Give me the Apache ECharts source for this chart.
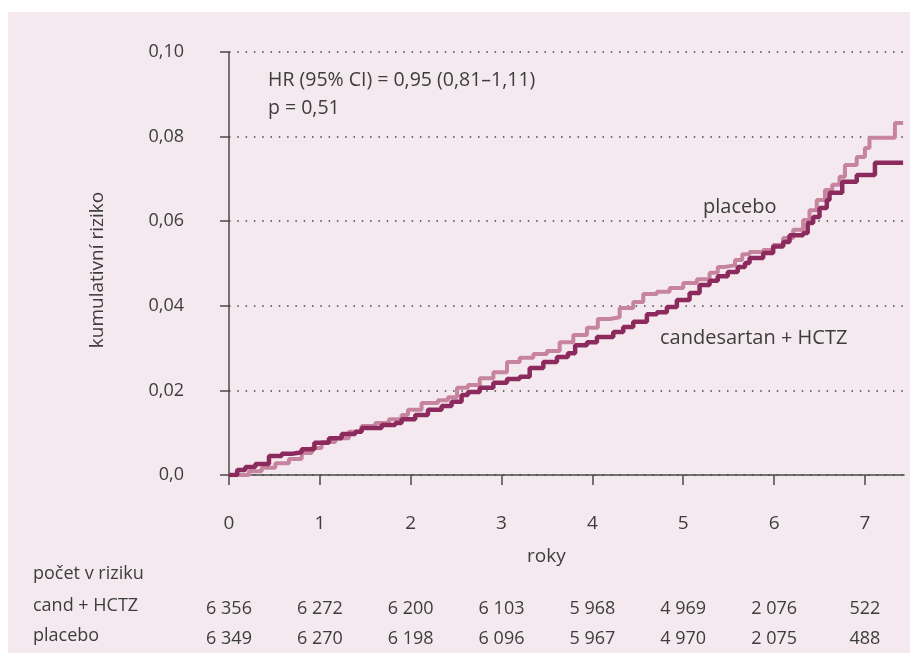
<!DOCTYPE html>
<html>
<head>
<meta charset="utf-8">
<script src="https://cdn.jsdelivr.net/npm/echarts@6/dist/echarts.min.js"></script>
<style>
  html, body { margin: 0; padding: 0; background: #fff; }
  #bg { position: absolute; left: 8px; top: 12px; width: 902px; height: 641px; background: #f4e9ee; }
  #main { position: absolute; left: 0; top: 0; width: 910px; height: 653px; }
</style>
</head>
<body>
<div id="bg"></div>
<div id="main"></div>
<script>
// roky (x) a kumulativní riziko (y)
var years = [0, 1, 2, 3, 4, 5, 6, 7];
var yTicks = [0, 0.02, 0.04, 0.06, 0.08, 0.10];

var candesartan = [
  [0, 0], [0.09, 0.0012], [0.18, 0.0019], [0.29, 0.0026], [0.44, 0.0045],
  [0.58, 0.0050], [0.69, 0.0054], [0.80, 0.0061], [0.94, 0.0076], [1.10, 0.0087],
  [1.24, 0.0097], [1.39, 0.0102], [1.46, 0.0111], [1.68, 0.0118], [1.83, 0.0123],
  [1.90, 0.0132], [2.05, 0.0142], [2.19, 0.0154], [2.34, 0.0163], [2.45, 0.0173],
  [2.56, 0.0189], [2.63, 0.0196], [2.76, 0.0206], [2.91, 0.0218], [3.06, 0.0227],
  [3.20, 0.0232], [3.31, 0.0253], [3.46, 0.0267], [3.61, 0.0279], [3.73, 0.0288],
  [3.81, 0.0307], [3.94, 0.0314], [4.05, 0.0326], [4.23, 0.0338], [4.34, 0.0350],
  [4.45, 0.0362], [4.60, 0.0380], [4.71, 0.0385], [4.82, 0.0397], [4.93, 0.0414],
  [5.07, 0.0430], [5.18, 0.0449], [5.29, 0.0459], [5.38, 0.0470], [5.49, 0.0480],
  [5.60, 0.0492], [5.68, 0.0501], [5.73, 0.0513], [5.88, 0.0525], [5.99, 0.0540],
  [6.10, 0.0551], [6.17, 0.0567], [6.32, 0.0572], [6.37, 0.0596], [6.43, 0.0610],
  [6.50, 0.0631], [6.58, 0.0650], [6.61, 0.0667], [6.75, 0.0693], [6.91, 0.0709],
  [7.11, 0.0738], [7.42, 0.0738]
];

var placebo = [
  [0, 0], [0.22, 0.0009], [0.36, 0.0017], [0.51, 0.0028], [0.66, 0.0038],
  [0.80, 0.0052], [0.91, 0.0064], [1.02, 0.0078], [1.17, 0.0087], [1.32, 0.0102],
  [1.46, 0.0116], [1.61, 0.0123], [1.76, 0.0132], [1.90, 0.0142], [1.97, 0.0154],
  [2.12, 0.0170], [2.30, 0.0177], [2.41, 0.0184], [2.51, 0.0206], [2.63, 0.0213],
  [2.76, 0.0229], [2.91, 0.0243], [3.06, 0.0267], [3.20, 0.0277], [3.35, 0.0286],
  [3.50, 0.0293], [3.64, 0.0314], [3.79, 0.0331], [3.94, 0.0348], [4.06, 0.0369],
  [4.19, 0.0373], [4.30, 0.0395], [4.45, 0.0409], [4.56, 0.0428], [4.71, 0.0433],
  [4.85, 0.0442], [5.00, 0.0454], [5.15, 0.0463], [5.29, 0.0478], [5.38, 0.0492],
  [5.46, 0.0496], [5.57, 0.0508], [5.65, 0.0522], [5.73, 0.0527], [5.88, 0.0532],
  [5.99, 0.0544], [6.10, 0.0560], [6.21, 0.0580], [6.32, 0.0603], [6.39, 0.0626],
  [6.47, 0.0650], [6.56, 0.0674], [6.64, 0.0686], [6.72, 0.0705], [6.78, 0.0733],
  [6.91, 0.0752], [7.00, 0.0773], [7.05, 0.0797], [7.33, 0.0832], [7.42, 0.0832]
];

// počet v riziku
var candAtRisk = ['6 356', '6 272', '6 200', '6 103', '5 968', '4 969', '2 076', '522'];
var placeboAtRisk = ['6 349', '6 270', '6 198', '6 096', '5 967', '4 970', '2 075', '488'];

var FONT = '"Open Sans", "Noto Sans", sans-serif';
var TXT = '#3d3d3d';
var AX = '#4a4a4a';

var chart = echarts.init(document.getElementById('main'));

function riskAxis(offset, labels) {
  return {
    type: 'value', min: 0, max: 7.43, position: 'bottom', offset: offset,
    axisLine: { show: false }, axisTick: { show: false }, splitLine: { show: false },
    axisLabel: {
      customValues: years, margin: 0, fontFamily: FONT, fontSize: 18, color: TXT,
      formatter: function (v) { return labels[Math.round(v)]; }
    }
  };
}

chart.setOption({
  animation: false,
  grid: { left: 229, right: 6, top: 52, bottom: 178 },
  xAxis: [
    {
      type: 'value', min: 0, max: 7.43, offset: 18,
      axisLine: { lineStyle: { color: AX, width: 1.5 } },
      axisTick: { customValues: years, length: 10, lineStyle: { color: AX, width: 1.5 } },
      axisLabel: { customValues: years, margin: 21, fontFamily: FONT, fontSize: 19, color: TXT },
      splitLine: { show: false }
    },
    riskAxis(125, candAtRisk),
    riskAxis(155, placeboAtRisk)
  ],
  yAxis: {
    type: 'value', min: 0, max: 0.10, interval: 0.02, offset: 26,
    axisLine: { show: true, lineStyle: { color: AX, width: 1.5 } },
    axisTick: { show: true, length: 9, lineStyle: { color: AX, width: 1.5 } },
    axisLabel: {
      margin: 19, fontFamily: FONT, fontSize: 18, color: TXT,
      formatter: function (v) { return v === 0 ? '0,0' : v.toFixed(2).replace('.', ','); }
    },
    splitLine: { show: true, lineStyle: { color: '#444', width: 1.5, type: [1.5, 6.8] } }
  },
  series: [
    {
      name: 'placebo', type: 'line', step: 'end', data: placebo, showSymbol: false,
      lineStyle: { color: '#c7849f', width: 4 }, z: 3
    },
    {
      name: 'candesartan + HCTZ', type: 'line', step: 'end', data: candesartan, showSymbol: false,
      lineStyle: { color: '#8c2a5e', width: 4.5 }, z: 4
    }
  ],
  graphic: [
    { type: 'text', x: 98, y: 270, rotation: Math.PI / 2,
      style: { text: 'kumulativní riziko', font: '19px ' + FONT, fill: TXT, align: 'center', verticalAlign: 'middle' } },
    { type: 'text', left: 268, top: 70, style: { text: 'HR (95% CI) = 0,95 (0,81–1,11)', font: '19.5px ' + FONT, fill: TXT } },
    { type: 'text', left: 268, top: 98, style: { text: 'p = 0,51', font: '19.5px ' + FONT, fill: TXT } },
    { type: 'text', left: 703, top: 197, style: { text: 'placebo', font: '20px ' + FONT, fill: TXT } },
    { type: 'text', left: 660, top: 328, style: { text: 'candesartan + HCTZ', font: '20px ' + FONT, fill: TXT } },
    { type: 'text', left: 527, top: 547, style: { text: 'roky', font: '19px ' + FONT, fill: TXT } },
    { type: 'text', left: 33, top: 565, style: { text: 'počet v riziku', font: '18px ' + FONT, fill: TXT } },
    { type: 'text', left: 33, top: 597, style: { text: 'cand + HCTZ', font: '18px ' + FONT, fill: TXT } },
    { type: 'text', left: 33, top: 627, style: { text: 'placebo', font: '18px ' + FONT, fill: TXT } }
  ]
});
</script>
</body>
</html>
